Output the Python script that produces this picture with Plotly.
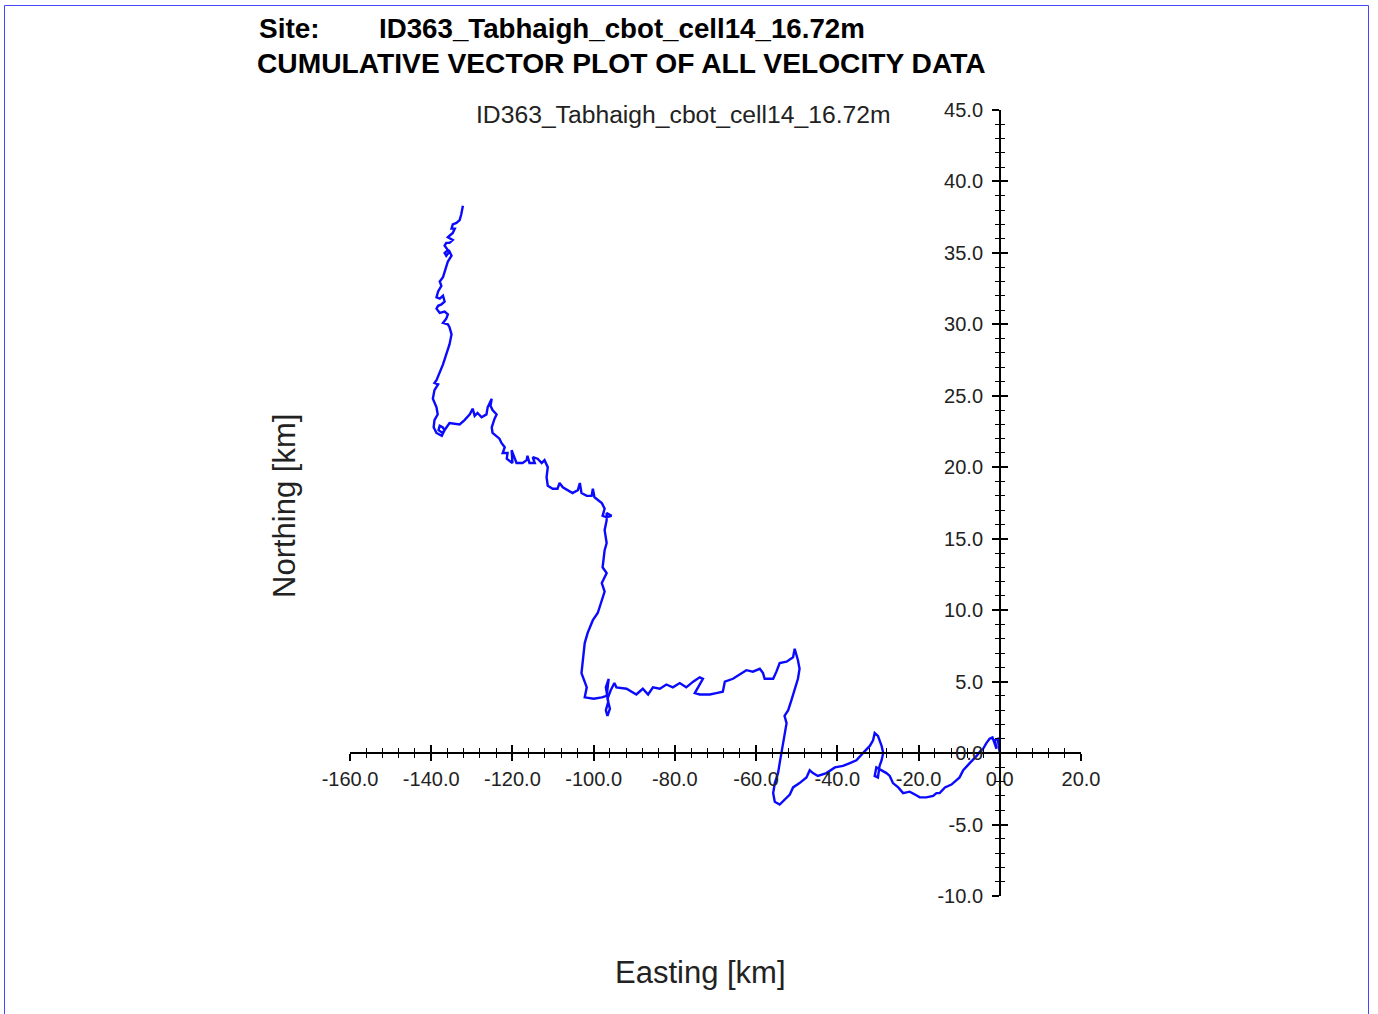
import plotly.graph_objects as go

site_name = "ID363_Tabhaigh_cbot_cell14_16.72m"
title_line2 = "CUMULATIVE VECTOR PLOT OF ALL VELOCITY DATA"
x_label = "Easting [km]"
y_label = "Northing [km]"

# cumulative displacement path (km), origin -> end
easting = [0, -0.5, -1.2, -0.8, -1.8, -2.5, -3.3, -4.1, -4.9, -5.7, -7.4, -9.0, -9.9, -10.7,
           -11.9, -13.5, -14.8, -15.6, -16.4, -18.1, -19.7, -20.9, -22.2, -23.8, -25.0, -26.3,
           -27.1, -27.9, -29.1, -30.4, -30.8, -30.0, -29.6, -29.1, -28.7, -29.1, -30.0, -30.8,
           -31.2, -32.0, -33.7, -35.3, -36.9, -38.6, -40.6, -42.7, -44.8, -46.0, -46.8, -47.6,
           -49.3, -50.9, -51.7, -53.4, -54.2, -55.4, -55.8, -55.4, -54.6, -54.2, -53.8, -53.4,
           -53.0, -52.5, -53.0, -52.1, -51.3, -50.5, -49.7, -49.3, -49.7, -50.5, -50.9, -52.5,
           -54.2, -55.0, -55.8, -57.9, -58.3, -59.1, -60.8, -62.4, -64.0, -65.7, -67.7, -68.2,
           -69.8, -71.4, -73.9, -75.1, -73.1, -73.9, -75.5, -77.2, -78.8, -80.5, -82.1, -83.7,
           -85.4, -86.6, -87.9, -89.5, -91.9, -94.4, -94.9, -95.8, -96.6, -96.0, -96.6, -97.0,
           -96.4, -97.0, -96.3, -96.8, -98.0, -100.0, -102.2, -101.7, -103.0, -102.7, -102.2,
           -101.5, -100.2, -99.0, -98.5, -97.3, -98.0, -96.8, -97.8, -97.3, -96.8, -97.3, -96.8,
           -96.8, -95.6, -96.8, -97.8, -97.3, -98.0, -99.8, -100.2, -100.5, -101.7, -103.0,
           -103.4, -103.9, -105.2, -106.4, -107.6, -108.4, -108.9, -110.1, -111.3, -111.6,
           -111.3, -112.1, -112.8, -113.8, -115.0, -114.5, -115.8, -116.3, -116.5, -117.5,
           -119.0, -120.2, -120.0, -121.4, -121.2, -122.4, -121.9, -122.7, -123.2, -124.9,
           -125.1, -124.4, -123.9, -124.9, -125.4, -125.1, -126.1, -126.4, -127.6, -128.6,
           -129.3, -129.8, -130.5, -131.8, -133.0, -135.5, -137.2, -138.2, -137.9, -137.2,
           -136.7, -137.4, -138.7, -139.4, -139.2, -138.4, -138.7, -139.6, -139.2, -138.3,
           -139.2, -138.7, -137.9, -137.1, -136.3, -135.5, -135.0, -135.5, -135.9, -137.1,
           -136.3, -135.9, -136.7, -137.9, -138.7, -138.3, -137.5, -136.7, -137.1, -137.9,
           -138.7, -138.3, -137.5, -137.9, -137.1, -136.7, -136.3, -135.9, -135.0, -135.5,
           -136.3, -136.7, -135.9, -136.7, -136.3, -135.5, -134.7, -135.9, -135.5, -134.7,
           -134.2, -135.0, -134.7, -133.8, -133.0, -132.6, -132.2]
northing = [0, 1.0, 0.9, 0.3, 1.1, 1.0, 0.7, 0.3, 0.1, -0.2, -0.7, -1.2, -1.7, -1.9,
            -2.2, -2.4, -2.8, -2.8, -3.0, -3.1, -3.1, -2.9, -2.7, -2.8, -2.4, -2.1,
            -1.6, -1.4, -1.2, -1.0, -1.6, -1.7, -0.9, -0.5, 0.0, 0.5, 1.2, 1.4,
            0.9, 0.5, 0.0, -0.5, -0.7, -0.9, -1.0, -1.4, -1.6, -1.4, -1.2, -1.7,
            -2.1, -2.4, -2.9, -3.4, -3.6, -3.4, -2.8, -2.1, -1.4, -0.7, 0.0, 0.7,
            1.4, 2.1, 2.6, 3.0, 3.7, 4.4, 5.2, 5.9, 6.5, 7.3, 6.7, 6.4,
            6.3, 5.7, 5.2, 5.2, 5.6, 5.9, 5.7, 5.8, 5.5, 5.2, 5.0, 4.3,
            4.2, 4.1, 4.1, 4.2, 5.2, 5.3, 5.0, 4.6, 4.9, 4.6, 4.8, 4.5,
            4.6, 4.1, 4.5, 4.1, 4.5, 4.6, 4.9, 4.4, 3.8, 3.1, 2.6, 3.0,
            3.6, 4.6, 5.2, 4.0, 3.9, 3.8, 3.9, 4.6, 5.6, 6.5, 7.7,
            8.4, 9.3, 9.8, 10.2, 11.3, 11.9, 12.6, 13.0, 14.2, 14.7, 15.6, 16.3,
            16.8, 16.6, 16.5, 16.6, 17.1, 17.5, 17.9, 18.5, 18.0, 18.0, 18.2,
            18.9, 18.4, 18.2, 18.4, 18.6, 18.9, 18.5, 18.5, 18.7, 19.3,
            20.0, 20.5, 20.3, 20.6, 20.7, 20.3, 20.3, 20.8, 20.5, 20.3,
            20.3, 21.2, 20.3, 20.6, 21.0, 21.0, 21.4, 21.7, 22.0, 22.4,
            22.8, 23.4, 23.7, 24.0, 24.3, 24.8, 24.2, 23.7, 23.5, 23.8,
            23.6, 24.1, 23.7, 23.3, 23.0, 23.1, 22.4, 22.6, 22.9, 22.8,
            22.6, 22.2, 22.4, 22.8, 23.3, 23.7, 24.2, 24.8, 25.4, 25.8,
            25.9, 26.1, 26.6, 27.2, 27.9, 28.6, 29.3, 29.8, 30.0, 30.1,
            30.4, 30.7, 30.9, 30.8, 31.1, 31.3, 31.4, 31.6, 32.0, 31.8,
            31.9, 32.3, 32.7, 33.0, 33.3, 33.7, 34.1, 34.4, 34.8, 35.1,
            34.8, 35.0, 35.2, 35.5, 35.7, 35.7, 35.9, 36.1, 36.2, 36.4,
            36.7, 36.7, 37.0, 37.1, 37.3, 37.7, 38.3]

x_range = [-160, 20]
y_range = [-10, 45]
x_tick_values = [-160, -140, -120, -100, -80, -60, -40, -20, 0, 20]
x_tick_labels = ["-160.0", "-140.0", "-120.0", "-100.0", "-80.0", "-60.0", "-40.0", "-20.0", "0.0", "20.0"]
y_tick_values = [-10, -5, 0, 5, 10, 15, 20, 25, 30, 35, 40, 45]
y_tick_labels = ["-10.0", "-5.0", "0.0", "5.0", "10.0", "15.0", "20.0", "25.0", "30.0", "35.0", "40.0", "45.0"]

font_family = "Liberation Sans, Arial, sans-serif"
line_blue = "#0a0aff"

fig = go.Figure()
fig.add_trace(go.Scatter(x=easting, y=northing, mode="lines",
                         line=dict(color=line_blue, width=2.4), showlegend=False,
                         hoverinfo="skip"))
# empty trace so the overlay axes (inside ticks) get drawn
fig.add_trace(go.Scatter(x=[], y=[], xaxis="x2", yaxis="y2", showlegend=False))

x_zero_pos = (0 - x_range[0]) / (x_range[1] - x_range[0])
y_zero_pos = (0 - y_range[0]) / (y_range[1] - y_range[0])

tickfont = dict(family=font_family, size=20, color="#222222")

common_x = dict(range=x_range, tickvals=x_tick_values, showgrid=False, zeroline=False,
                showline=True, linecolor="black", linewidth=1.5, tickcolor="black",
                tickwidth=1.5, ticklen=7, anchor="free", position=y_zero_pos)
common_y = dict(range=y_range, tickvals=y_tick_values, showgrid=False, zeroline=False,
                showline=True, linecolor="black", linewidth=1.5, tickcolor="black",
                tickwidth=1.5, ticklen=7, anchor="free", position=x_zero_pos)

fig.update_layout(
    width=1378, height=1014,
    margin=dict(l=350, r=297, t=110, b=118),
    paper_bgcolor="white", plot_bgcolor="white",
    xaxis=dict(**common_x, ticks="outside", ticktext=x_tick_labels, tickfont=tickfont,
               ticklabelstandoff=1,
               minor=dict(dtick=4, tick0=0, ticks="outside", ticklen=4, tickcolor="black", tickwidth=1.2)),
    xaxis2=dict(**common_x, overlaying="x", ticks="inside", showticklabels=False,
                minor=dict(dtick=4, tick0=0, ticks="inside", ticklen=4, tickcolor="black", tickwidth=1.2)),
    yaxis=dict(**common_y, ticks="outside", ticktext=y_tick_labels, tickfont=tickfont,
               ticklabelstandoff=5,
               minor=dict(dtick=1, tick0=0, ticks="outside", ticklen=4, tickcolor="black", tickwidth=1.2)),
    yaxis2=dict(**common_y, overlaying="y", ticks="inside", showticklabels=False,
                minor=dict(dtick=1, tick0=0, ticks="inside", ticklen=4, tickcolor="black", tickwidth=1.2)),
)

W, H = 731, 786  # plot area size in px, for placing text in paper units
def px_x(px):
    return (px - 350) / W
def px_y(py):
    return (896 - py) / H

annots = [
    dict(text="<b>Site:</b>", x=px_x(257), y=px_y(28), xanchor="left", yanchor="middle",
         font=dict(size=28, family=font_family, color="black")),
    dict(text="<b>" + site_name + "</b>", x=px_x(377), y=px_y(28), xanchor="left", yanchor="middle",
         font=dict(size=27.7, family=font_family, color="black")),
    dict(text="<b>" + title_line2 + "</b>", x=px_x(255), y=px_y(63), xanchor="left", yanchor="middle",
         font=dict(size=28.2, family=font_family, color="black")),
    dict(text=site_name, x=px_x(474), y=px_y(114), xanchor="left", yanchor="middle",
         font=dict(size=24.7, family=font_family, color="#222222")),
    dict(text=x_label, x=px_x(700), y=px_y(972), xanchor="center", yanchor="middle",
         font=dict(size=31, family=font_family, color="#222222")),
    dict(text=y_label, x=px_x(285), y=px_y(506), xanchor="center", yanchor="middle", textangle=-90,
         font=dict(size=31, family=font_family, color="#222222")),
]
for a in annots:
    fig.add_annotation(xref="paper", yref="paper", showarrow=False, **a)

# page frame
fig.add_shape(type="rect", xref="paper", yref="paper",
              x0=px_x(4.5), x1=px_x(1368.5), y0=px_y(1030), y1=px_y(5.5),
              line=dict(color="#4646ff", width=1), fillcolor="rgba(0,0,0,0)", layer="above")

fig.write_html("out.html")
